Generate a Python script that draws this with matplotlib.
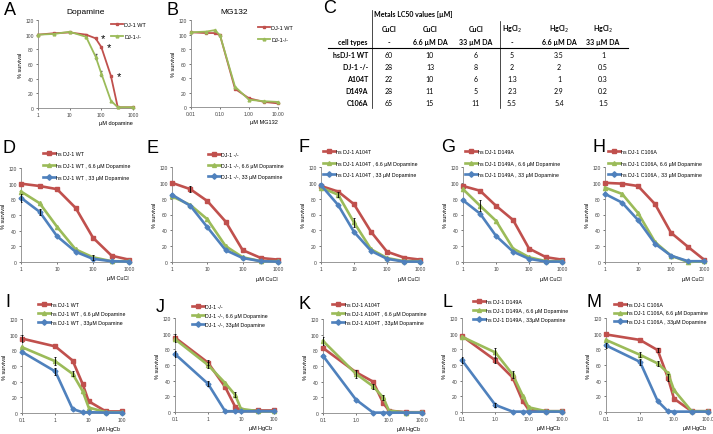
import matplotlib
matplotlib.use("Agg")
import matplotlib.pyplot as plt
from matplotlib.lines import Line2D

W, H = 713, 435
RED, GREEN, BLUE = "#C0504D", "#9BBB59", "#4F81BD"

# ---- panel A / B data
dopa_x = [1, 3.3, 10, 33, 66, 100, 200, 330, 1000]
dopa_wt = [100, 102, 103, 100, 95, 83, 44, 1, 1]
dopa_ko = [100, 101, 104, 97, 70, 47, 10, 1, 1]

mg_x = [0.01, 0.033, 0.066, 0.1, 0.33, 1, 3.3, 10]
mg_wt = [103, 102, 102, 99, 25, 12, 7, 5]
mg_ko = [103, 104, 106, 99, 28, 10, 8, 7]

# ---- CuCl titrations (D-H)
cu_x = [1, 3.3, 10, 33, 100, 330, 1000]
D_vals = [[100, 97, 93, 69, 31, 8, 3], [90, 75, 45, 16, 6, 1, 1], [82, 64, 33, 13, 4, 1, 0.5]]
E_vals = [[100, 92, 77, 51, 15, 5, 3], [83, 72, 54, 20, 6, 1, 1], [85, 71, 44, 15, 5, 1, 0.5]]
F_vals = [[96, 89, 73, 38, 13, 5.5, 3], [94, 85, 50, 16, 5, 1, 1], [97, 72, 38, 14, 4, 0.5, 0.5]]
G_vals = [[96, 90, 71, 53, 17, 6, 3], [92, 71, 52, 17, 6, 1, 1], [78, 61, 33, 13, 4, 0.5, 0.5]]
H_vals = [[100, 99, 96, 73, 37, 19, 3], [94, 86, 62, 25, 8, 0, 1], [86, 75, 53, 23, 8, 1, 1]]

# ---- HgCl2 titrations (I-M)
hg_x = [0.1, 1, 3.3, 6.6, 10, 33, 100]
I_vals = [[95, 85, 67, 37, 15, 2, 2], [84, 66, 50, 28, 7, 1, 1], [78, 53, 5, 1, 1, 0.5, 0.5]]
J_vals = [[95, 63, 32, 7, 2, 2, 2], [93, 60, 37, 22, 4, 1, 1], [74, 36, 1, 1, 1, 1, 1]]
K_vals = [[83, 52, 40, 13, 3, 1, 1], [92, 50, 34, 20, 3, 0.5, 1], [73, 17, 0.5, 0.5, 0.5, 0.5, 0.5]]
L_vals = [[97, 66, 44, 14, 3, 1, 1], [96, 76, 48, 21, 6, 1, 1], [66, 9, 0.5, 0.5, 0.5, 0.5, 0.5]]
M_vals = [[99, 92, 79, 44, 17, 1, 1], [92, 73, 62, 50, 28, 1, 1], [85, 64, 14, 1, 0.5, 0.5, 0.5]]

# error bars (SD), 0 = none visible
D_err = [[0, 0, 0, 0, 0, 0, 0], [0, 0, 0, 0, 3, 0, 0], [5, 4, 0, 0, 0, 0, 0]]
E_err = [[0, 4, 0, 0, 0, 0, 0], [0, 0, 0, 0, 0, 0, 0], [0, 0, 0, 0, 0, 0, 0]]
F_err = [[0, 0, 0, 0, 0, 0, 0], [0, 3, 6, 0, 0, 0, 0], [0, 0, 0, 0, 0, 0, 0]]
G_err = [[0, 0, 0, 0, 0, 0, 0], [0, 7, 0, 0, 0, 0, 0], [0, 0, 0, 0, 0, 0, 0]]
H_err = [[0, 0, 0, 0, 0, 0, 0], [0, 0, 0, 0, 0, 0, 0], [0, 0, 0, 0, 0, 0, 0]]
I_err = [[4, 0, 0, 0, 0, 0, 0], [0, 5, 3, 0, 0, 0, 0], [0, 4, 0, 0, 0, 0, 0]]
J_err = [[5, 3, 0, 0, 0, 0, 0], [0, 4, 0, 3, 0, 0, 0], [4, 3, 0, 0, 0, 0, 0]]
K_err = [[0, 0, 0, 0, 0, 0, 0], [5, 5, 3, 3, 0, 0, 0], [0, 0, 0, 0, 0, 0, 0]]
L_err = [[0, 3, 0, 0, 0, 0, 0], [0, 6, 4, 0, 0, 0, 0], [4, 3, 0, 0, 0, 0, 0]]
M_err = [[0, 0, 3, 5, 0, 0, 0], [0, 3, 3, 0, 0, 0, 0], [3, 4, 0, 0, 0, 0, 0]]

# ---- legends
D_lab = ["hs DJ-1 WT", "hs DJ-1 WT , 6.6 µM Dopamine", "hs DJ-1 WT , 33 µM Dopamine"]
E_lab = ["DJ-1 -/-", "DJ-1 -/-, 6.6 µM Dopamine", "DJ-1 -/-, 33 µM Dopamine"]
F_lab = ["hs DJ-1 A104T", "hs DJ-1 A104T , 6.6 µM Dopamine", "hs DJ-1 A104T , 33 µM Dopamine"]
G_lab = ["hs DJ-1 D149A", "hs DJ-1 D149A , 6.6 µM Dopamine", "hs DJ-1 D149A , 33 µM Dopamine"]
H_lab = ["hs DJ-1 C106A", "hs DJ-1 C106A, 6.6 µM Dopamine", "hs DJ-1 C106A , 33 µM Dopamine"]
I_lab = ["hs DJ-1 WT", "hs DJ-1 WT , 6.6 µM Dopamine", "hs DJ-1 WT , 33µM Dopamine"]
J_lab = ["DJ-1 -/-", "DJ-1 -/-, 6.6 µM Dopamine", "DJ-1 -/-, 33µM Dopamine"]
K_lab = ["hs DJ-1 A104T", "hs DJ-1 A104T , 6.6 µM Dopamine", "hs DJ-1 A104T , 33µM Dopamine"]
L_lab = ["hs DJ-1 D149A", "hs DJ-1 D149A , 6.6 µM Dopamine", "hs DJ-1 D149A , 33µM Dopamine"]
M_lab = ["hs DJ-1 C106A", "hs DJ-1 C106A, 6.6 µM Dopamine", "hs DJ-1 C106A , 33µM Dopamine"]

# ---- table C
tab_rows = ["hsDJ-1 WT", "DJ-1 -/-", "A104T", "D149A", "C106A"]
tab_head1 = ["CuCl", "CuCl", "CuCl", "HgCl$_2$", "HgCl$_2$", "HgCl$_2$"]
tab_head2 = ["-", "6.6 µM DA", "33 µM DA", "-", "6.6 µM DA", "33 µM DA"]
tab_vals = [["60", "10", "6", "5", "3.5", "1"],
            ["28", "13", "8", "2", "2", "0.5"],
            ["22", "10", "6", "1.3", "1", "0.3"],
            ["28", "11", "5", "2.3", "2.9", "0.2"],
            ["65", "15", "11", "5.5", "5.4", "1.5"]]

plt.rcParams["font.family"] = ["Liberation Sans", "DejaVu Sans"]
fig = plt.figure(figsize=(W / 100, H / 100), dpi=100)


def rect(x0, x1, y0, y1):
    return [x0 / W, 1 - y1 / H, (x1 - x0) / W, (y1 - y0) / H]


def style_axes(ax, xlim, ticks, ticklabels, xlabel):
    ax.set_xscale("log")
    ax.set_xlim(*xlim)
    ax.set_ylim(0, 120)
    ax.set_xticks(ticks)
    ax.set_xticklabels(ticklabels)
    ax.minorticks_off()
    ax.set_yticks(range(0, 121, 20))
    ax.tick_params(labelsize=3.6, length=1.5, width=0.5, pad=1.5, colors="#404040")
    for s in ["top", "right"]:
        ax.spines[s].set_visible(False)
    for s in ["left", "bottom"]:
        ax.spines[s].set_color("#888888")
        ax.spines[s].set_linewidth(0.6)
    ax.set_ylabel("% survival", fontsize=4, labelpad=2)
    ax.text(1.0, -0.17, xlabel, transform=ax.transAxes, ha="right", va="center",
            fontsize=4)


def letter(x, y, s):
    fig.text(x / W, 1 - y / H, s, fontsize=13, ha="left", va="top")


def titration(r, x, vals, errs, labels, xlim, ticks, ticklabels, xlabel, leg_xy, leg_sp):
    ax = fig.add_axes(rect(*r))
    markers = ["s", "^", "D"]
    colors = [RED, GREEN, BLUE]
    handles = []
    for v, e, c, m in zip(vals, errs, colors, markers):
        ax.plot(x, v, color=c, lw=1.9, marker=m, ms=3.0 if m != "D" else 2.5,
                mec=c, mfc=c, clip_on=False, zorder=3)
        xs = [xi for xi, ei in zip(x, e) if ei > 0]
        ys = [vi for vi, ei in zip(v, e) if ei > 0]
        es = [ei for ei in e if ei > 0]
        if xs:
            ax.errorbar(xs, ys, yerr=es, fmt="none", ecolor="black", elinewidth=0.6,
                        capsize=1, capthick=0.6, zorder=4)
        handles.append(Line2D([], [], color=c, lw=1.9, marker=m, ms=2.8, mec=c, mfc=c))
    style_axes(ax, xlim, ticks, ticklabels, xlabel)
    fig.legend(handles, labels, loc="upper left",
               bbox_to_anchor=(leg_xy[0] / W, 1 - leg_xy[1] / H), frameon=False,
               fontsize=3.8, handlelength=2.2, handletextpad=0.2, labelspacing=leg_sp,
               borderpad=0, borderaxespad=0)
    return ax


# ---- A
axA = fig.add_axes(rect(38, 133, 21, 109))
axA.plot(dopa_x, dopa_wt, color=RED, lw=1.3, marker="s", ms=2, clip_on=False, zorder=3)
axA.plot(dopa_x, dopa_ko, color=GREEN, lw=1.3, marker="^", ms=2, clip_on=False, zorder=3)
axA.errorbar(dopa_x[4:6], dopa_ko[4:6], yerr=[3, 3], fmt="none", ecolor="#555555",
             elinewidth=0.5, capsize=0.8)
style_axes(axA, (1, 1000), [1, 10, 100, 1000], ["1", "10", "100", "1000"], "µM dopamine")
axA.set_title("Dopamine", fontsize=6, pad=5)
for i in [4, 5, 6]:
    axA.annotate("*", (dopa_x[i], dopa_wt[i]), xytext=(4, 0), textcoords="offset points",
                 fontsize=8, ha="left", va="center")
axA.legend([Line2D([], [], color=RED, lw=1.3, marker="s", ms=2),
            Line2D([], [], color=GREEN, lw=1.3, marker="^", ms=2)],
           ["DJ-1 WT", "DJ-1-/-"], loc="upper left",
           bbox_to_anchor=(108 / W, 1 - 20 / H), bbox_transform=fig.transFigure,
           frameon=False, fontsize=4, handlelength=2.2, handletextpad=0.2,
           labelspacing=1.3, borderpad=0)

# ---- B
axB = fig.add_axes(rect(191, 278, 21, 108))
axB.plot(mg_x, mg_wt, color=RED, lw=1.3, marker="s", ms=2, clip_on=False, zorder=3)
axB.plot(mg_x, mg_ko, color=GREEN, lw=1.3, marker="^", ms=2, clip_on=False, zorder=3)
style_axes(axB, (0.01, 10), [0.01, 0.1, 1, 10], ["0.01", "0.10", "1.00", "10.00"], "µM MG132")
axB.set_title("MG132", fontsize=6, pad=5)
axB.legend([Line2D([], [], color=RED, lw=1.3, marker="s", ms=2),
            Line2D([], [], color=GREEN, lw=1.3, marker="^", ms=2)],
           ["DJ-1 WT", "DJ-1-/-"], loc="upper left",
           bbox_to_anchor=(255 / W, 1 - 23 / H), bbox_transform=fig.transFigure,
           frameon=False, fontsize=4, handlelength=2.2, handletextpad=0.2,
           labelspacing=1.3, borderpad=0)

# ---- C table
tf = ["Lato", "DejaVu Sans"]
col_x = [389, 430, 476, 512, 559, 603]
fig.text(374 / W, 1 - 15 / H, "Metals LC50 values [µM]", fontsize=5, fontweight="bold",
         family=tf, ha="left", va="center")
for cx, h1, h2 in zip(col_x, tab_head1, tab_head2):
    fig.text(cx / W, 1 - 29 / H, h1, fontsize=5, fontweight="bold", family=tf,
             ha="center", va="center")
    fig.text(cx / W, 1 - 43 / H, h2, fontsize=5, fontweight="bold", family=tf,
             ha="center", va="center")
fig.text(368 / W, 1 - 43 / H, "cell types", fontsize=5, fontweight="bold", family=tf,
         ha="right", va="center")
for i, (name, row) in enumerate(zip(tab_rows, tab_vals)):
    ry = 56 + 11.8 * i
    fig.text(368 / W, 1 - ry / H, name, fontsize=5, fontweight="bold", family=tf,
             ha="right", va="center")
    for cx, v in zip(col_x, row):
        fig.text(cx / W, 1 - ry / H, v, fontsize=5, family=tf, ha="center", va="center")
fig.add_artist(Line2D([328 / W, 628 / W], [1 - 49 / H, 1 - 49 / H], color="black", lw=0.8))
fig.add_artist(Line2D([372 / W, 372 / W], [1 - 11 / H, 1 - 109 / H], color="black", lw=0.5))
fig.add_artist(Line2D([500 / W, 500 / W], [1 - 22 / H, 1 - 109 / H], color="black", lw=0.5))

# ---- D-H (CuCl)
cu_t = [1, 10, 100, 1000]
cu_tl = ["1", "10", "100", "1000"]
cu_lbl = "µM CuCl"
titration((21, 129, 169, 263), cu_x, D_vals, D_err, D_lab, (1, 1000), cu_t, cu_tl, cu_lbl, (43, 152), 1.35)
titration((172, 278, 168, 263), cu_x, E_vals, E_err, E_lab, (1, 1000), cu_t, cu_tl, cu_lbl, (208, 153), 1.1)
titration((321, 420, 168, 263), cu_x, F_vals, F_err, F_lab, (1, 1000), cu_t, cu_tl, cu_lbl, (323, 150), 1.25)
titration((463, 562, 168, 263), cu_x, G_vals, G_err, G_lab, (1, 1000), cu_t, cu_tl, cu_lbl, (465, 150), 1.25)
titration((605, 704, 168, 263), cu_x, H_vals, H_err, H_lab, (1, 1000), cu_t, cu_tl, cu_lbl, (608, 150), 1.25)

# ---- I-M (HgCl2)
hg_t = [0.1, 1, 10, 100]
hg_lbl = "µM HgCl$_2$"
hg_tl1 = ["0.1", "1", "10", "100"]
hg_tl2 = ["0.1", "1.0", "10.0", "100.0"]
titration((22, 122, 320, 414), hg_x, I_vals, I_err, I_lab, (0.1, 100), hg_t, hg_tl1, hg_lbl, (38, 303), 0.75)
titration((175, 274, 319, 413), hg_x, J_vals, J_err, J_lab, (0.1, 100), hg_t, hg_tl1, hg_lbl, (192, 305), 0.75)
titration((323, 422, 320, 414), hg_x, K_vals, K_err, K_lab, (0.1, 100), hg_t, hg_tl2, hg_lbl, (332, 303), 0.75)
titration((462, 562, 319, 413), hg_x, L_vals, L_err, L_lab, (0.1, 100), hg_t, hg_tl2, hg_lbl, (473, 300), 0.75)
titration((606, 708, 319, 413), hg_x, M_vals, M_err, M_lab, (0.1, 100), hg_t, hg_tl2, hg_lbl, (614, 303), 0.65)

# ---- panel letters
for (lx, ly, s) in [(4, 2, "A"), (167, 2, "B"), (323, 0, "C"),
                    (3, 140, "D"), (147, 140, "E"), (299, 139, "F"), (441, 139, "G"), (592, 139, "H"),
                    (5, 294, "I"), (156, 299, "J"), (299, 296, "K"), (442, 294, "L"), (587, 294, "M")]:
    letter(lx, ly, s)

fig.savefig("out.png", dpi=100)
